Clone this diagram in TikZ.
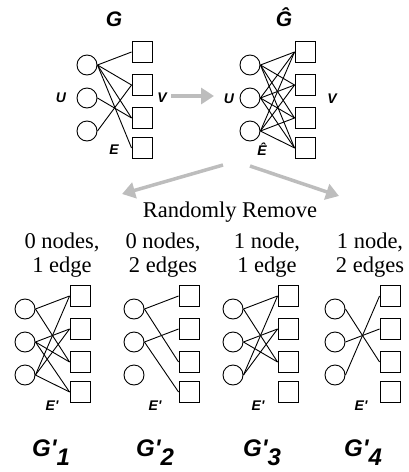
\documentclass[tikz,border=0pt]{standalone}
\usepackage{fontspec}
\setmainfont{Liberation Serif}
\newfontfamily\labfont{Liberation Sans}
\usetikzlibrary{arrows.meta}
\definecolor{arrgray}{HTML}{BDBDBD}
\tikzset{
  unode/.style={circle,draw,line width=0.9pt,minimum size=20pt,inner sep=0pt},
  vnode/.style={rectangle,draw,line width=0.9pt,minimum width=20pt,minimum height=20.5pt,inner sep=0pt},
  edge/.style={line width=0.9pt},
  biglab/.style={font=\labfont\bfseries\itshape\fontsize{21}{24}\selectfont,inner sep=0pt},
  smlab/.style={font=\labfont\bfseries\itshape\fontsize{14}{16}\selectfont,inner sep=0pt},
  glab/.style={font=\labfont\bfseries\itshape\fontsize{24}{27}\selectfont,inner sep=0pt,anchor=base},
  txt/.style={font=\fontsize{22.5}{25}\selectfont,inner sep=0pt,anchor=base},
  garrow/.style={draw=arrgray,line width=3.5pt,-{Triangle[length=13pt,width=16pt]},color=arrgray},
}
\newcommand\bigraph[3]{%
  \foreach \i/\yy in {1/65,2/98,3/131}
    \node[unode] (#1u\i) at ({87+#2},{\yy+#3}) {};
  \foreach \j/\yy in {1/52,2/85,3/118,4/148}
    \node[vnode] (#1v\j) at ({142+#2},{\yy+#3}) {};
}
\newcommand\bedges[2]{%
  \foreach \a/\b in {#2}
    \draw[edge] (#1u\a.east) -- (#1v\b.west);
}
\begin{document}
\begin{tikzpicture}[x=1pt,y=-1pt]
\useasboundingbox (0,0) rectangle (409,472);
% top graphs
\bigraph{G}{0}{0}
\bedges{G}{1/1,1/2,1/3,1/4,2/3,3/2}
\bigraph{H}{163}{0}
\bedges{H}{1/1,1/2,1/3,1/4,2/1,2/2,2/3,2/4,3/1,3/2,3/3,3/4}
% bottom graphs
\bigraph{A}{-62}{244}
\bedges{A}{1/1,1/3,2/2,2/3,2/4,3/1,3/2,3/4}
\bigraph{B}{47}{244}
\bedges{B}{1/1,1/3,2/2,2/4}
\bigraph{C}{146}{244}
\bedges{C}{1/1,1/3,2/2,2/3,3/1,3/2}
\bigraph{D}{248}{244}
\bedges{D}{1/3,2/2,3/1}
% top labels
\node[biglab,anchor=base] (lG) at (114,26) {G};
\node[biglab,anchor=base] (lH) at (284,26) {\^{G}};
\node[smlab] (lU1) at (61,98) {U};
\node[smlab] (lV1) at (162,98) {V};
\node[smlab] (lE1) at (114,150) {E};
\node[smlab,anchor=base] (lU2) at (229,103) {U};
\node[smlab,anchor=base] (lV2) at (332,103) {V};
\node[smlab,anchor=base] (lE2) at (262,155) {\^{E}};
% arrows
\coordinate (a1s) at (171,96);
\coordinate (a1e) at (214,96);
\draw[garrow] (a1s) -- (a1e);
\coordinate (a2s) at (223,165);
\coordinate (a2e) at (122,194);
\draw[garrow] (a2s) -- (a2e);
\coordinate (a3s) at (250,166);
\coordinate (a3e) at (339,196);
\draw[garrow] (a3s) -- (a3e);
% texts
\node[txt] (rr) at (230,217) {Randomly Remove};
\node[txt] (t1a) at (62,248) {0 nodes,};
\node[txt] (t1b) at (62,272) {1 edge};
\node[txt] (t2a) at (163,248) {0 nodes,};
\node[txt] (t2b) at (163,272) {2 edges};
\node[txt] (t3a) at (267,248) {1 node,};
\node[txt] (t3b) at (267,272) {1 edge};
\node[txt] (t4a) at (370,248) {1 node,};
\node[txt] (t4b) at (370,272) {2 edges};
% E' labels
\node[smlab,anchor=base] (eA) at (52,410) {E'};
\node[smlab,anchor=base] (eB) at (155,410) {E'};
\node[smlab,anchor=base] (eC) at (258,410) {E'};
\node[smlab,anchor=base] (eD) at (361,410) {E'};
% G' labels
\node[glab] (gA) at (51,456) {G'\raisebox{-9pt}{1}};
\node[glab] (gB) at (155,456) {G'\raisebox{-9pt}{2}};
\node[glab] (gC) at (262,456) {G'\raisebox{-9pt}{3}};
\node[glab] (gD) at (363,456) {G'\raisebox{-9pt}{4}};
\end{tikzpicture}
\end{document}
